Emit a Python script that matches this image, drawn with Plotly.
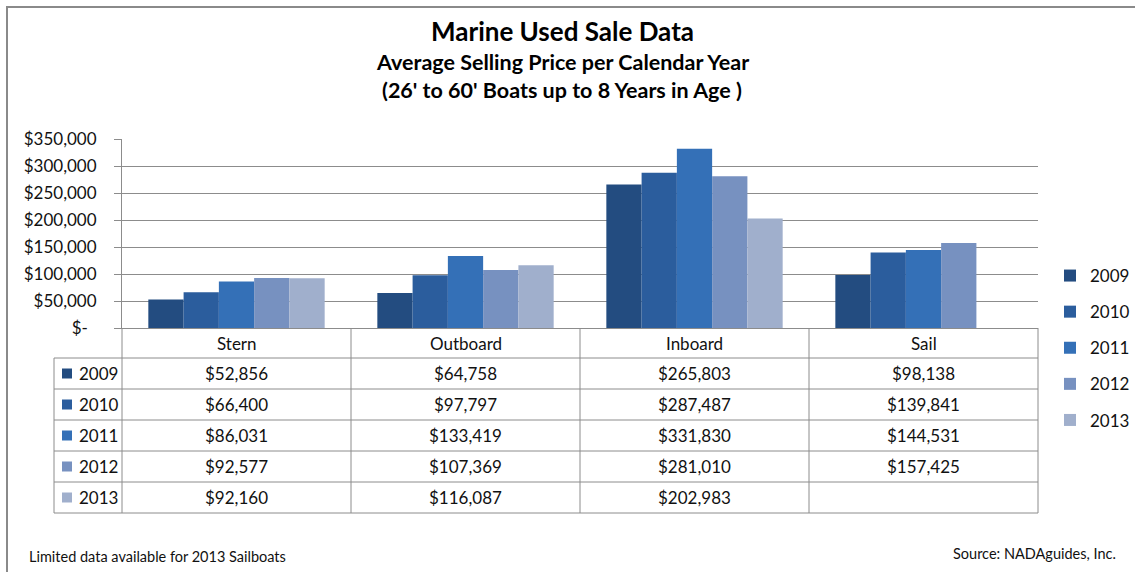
import plotly.graph_objects as go

# ---- data ----
categories = ["Stern", "Outboard", "Inboard", "Sail"]
years = ["2009", "2010", "2011", "2012", "2013"]
price_2009 = [52856, 64758, 265803, 98138]
price_2010 = [66400, 97797, 287487, 139841]
price_2011 = [86031, 133419, 331830, 144531]
price_2012 = [92577, 107369, 281010, 157425]
price_2013 = [92160, 116087, 202983, None]
series = [price_2009, price_2010, price_2011, price_2012, price_2013]

y_ticks = [0, 50000, 100000, 150000, 200000, 250000, 300000, 350000]

colors = ["#234c80", "#2b5d9d", "#3470b7", "#7791c0", "#a0afcc"]

# ---- layout geometry (pixels) ----
W, H = 1135, 572
PL, PR, PT, PB = 122, 1038, 139, 328      # plot area box
HEADER_H, ROW_H = 30, 31
KEY_L = 54                                 # left edge of the key column
GRID = "#8c8c8c"
FONT = "Lato"
TXT = 17


def px(x):
    return (x - PL) / (PR - PL)


def py(y):
    return (PB - y) / (PB - PT)


def money(v):
    return "" if v is None else "${:,}".format(v)


def label(x, y, text, size=TXT, xanchor="center", bold=False, color="#111"):
    return dict(xref="paper", yref="paper", x=px(x), y=py(y), xanchor=xanchor,
                yanchor="middle", text=f"<b>{text}</b>" if bold else text,
                showarrow=False, font=dict(family=FONT, size=size, color=color))


fig = go.Figure()
for yr, vals, col in zip(years, series, colors):
    fig.add_trace(go.Bar(
        name=yr, x=categories, y=vals, marker=dict(color=col, line=dict(width=0)),
        legendgroup=yr,
    ))

shapes = []
annotations = []

# outer chart frame
shapes.append(dict(type="rect", xref="paper", yref="paper",
                   x0=px(7), x1=px(W + 10), y0=py(H + 10), y1=py(7),
                   line=dict(color="#8a8a8a", width=2), fillcolor="rgba(0,0,0,0)"))

# data table grid
n_rows = len(years)
table_bottom = PB + HEADER_H + ROW_H * n_rows
col_w = (PR - PL) / len(categories)
col_edges = [PL + i * col_w for i in range(len(categories) + 1)]
for xe in col_edges:
    shapes.append(dict(type="line", xref="paper", yref="paper",
                       x0=px(xe), x1=px(xe), y0=py(PB), y1=py(table_bottom),
                       line=dict(color=GRID, width=1)))
shapes.append(dict(type="line", xref="paper", yref="paper",
                   x0=px(KEY_L), x1=px(KEY_L), y0=py(PB + HEADER_H), y1=py(table_bottom),
                   line=dict(color=GRID, width=1)))
for r in range(n_rows + 1):
    yl = PB + HEADER_H + r * ROW_H
    shapes.append(dict(type="line", xref="paper", yref="paper",
                       x0=px(KEY_L), x1=px(PR), y0=py(yl), y1=py(yl),
                       line=dict(color=GRID, width=1)))

# column headers
for i, cat in enumerate(categories):
    annotations.append(label(col_edges[i] + col_w / 2, PB + HEADER_H / 2, cat))

# rows: key swatch, year, values
for r, (yr, vals, col) in enumerate(zip(years, series, colors)):
    yc = PB + HEADER_H + r * ROW_H + ROW_H / 2
    shapes.append(dict(type="rect", xref="paper", yref="paper",
                       x0=px(62), x1=px(72), y0=py(yc + 5), y1=py(yc - 5),
                       line=dict(width=0), fillcolor=col))
    annotations.append(label(77, yc, yr, xanchor="left"))
    for i, v in enumerate(vals):
        annotations.append(label(col_edges[i] + col_w / 2, yc, money(v)))

# titles
annotations += [
    label(562, 31, "Marine Used Sale Data", size=26, bold=True, color="#000"),
    label(562, 62, "Average Selling Price per Calendar Year", size=21.5, bold=True, color="#000"),
    label(562, 90, "(26' to 60' Boats up to 8 Years in Age )", size=21.5, bold=True, color="#000"),
]

# footnotes
annotations += [
    label(27, 556, "Limited data available for 2013 Sailboats", size=14.5, xanchor="left"),
    label(1118, 553, "Source: NADAguides, Inc.", size=14.5, xanchor="right"),
]

tick_text = ["$-\u00a0\u00a0" if v == 0 else "${:,}".format(v) for v in y_ticks]

fig.update_layout(
    width=W, height=H,
    margin=dict(l=PL, r=W - PR, t=PT, b=H - PB, pad=0, autoexpand=False),
    paper_bgcolor="white", plot_bgcolor="white",
    barmode="group", bargap=0.23, bargroupgap=0,
    font=dict(family=FONT, size=TXT, color="#111"),
    showlegend=True,
    legend=dict(x=px(1050), y=py(258), xanchor="left", yanchor="top",
                font=dict(family=FONT, size=TXT, color="#111"),
                tracegroupgap=11, bgcolor="rgba(0,0,0,0)"),
    shapes=shapes, annotations=annotations,
)
fig.update_xaxes(showticklabels=False, showgrid=False, showline=True, linecolor=GRID,
                 ticks="", range=[-0.5, len(categories) - 0.5], fixedrange=True)
fig.update_yaxes(range=[0, 350000], tickvals=y_ticks, ticktext=tick_text,
                 showgrid=True, gridcolor=GRID, gridwidth=1,
                 showline=True, linecolor=GRID, ticks="outside", ticklen=7,
                 tickcolor=GRID, ticklabelstandoff=14,
                 tickfont=dict(family=FONT, size=TXT, color="#111"), zeroline=False)

fig.write_html("out.html")
